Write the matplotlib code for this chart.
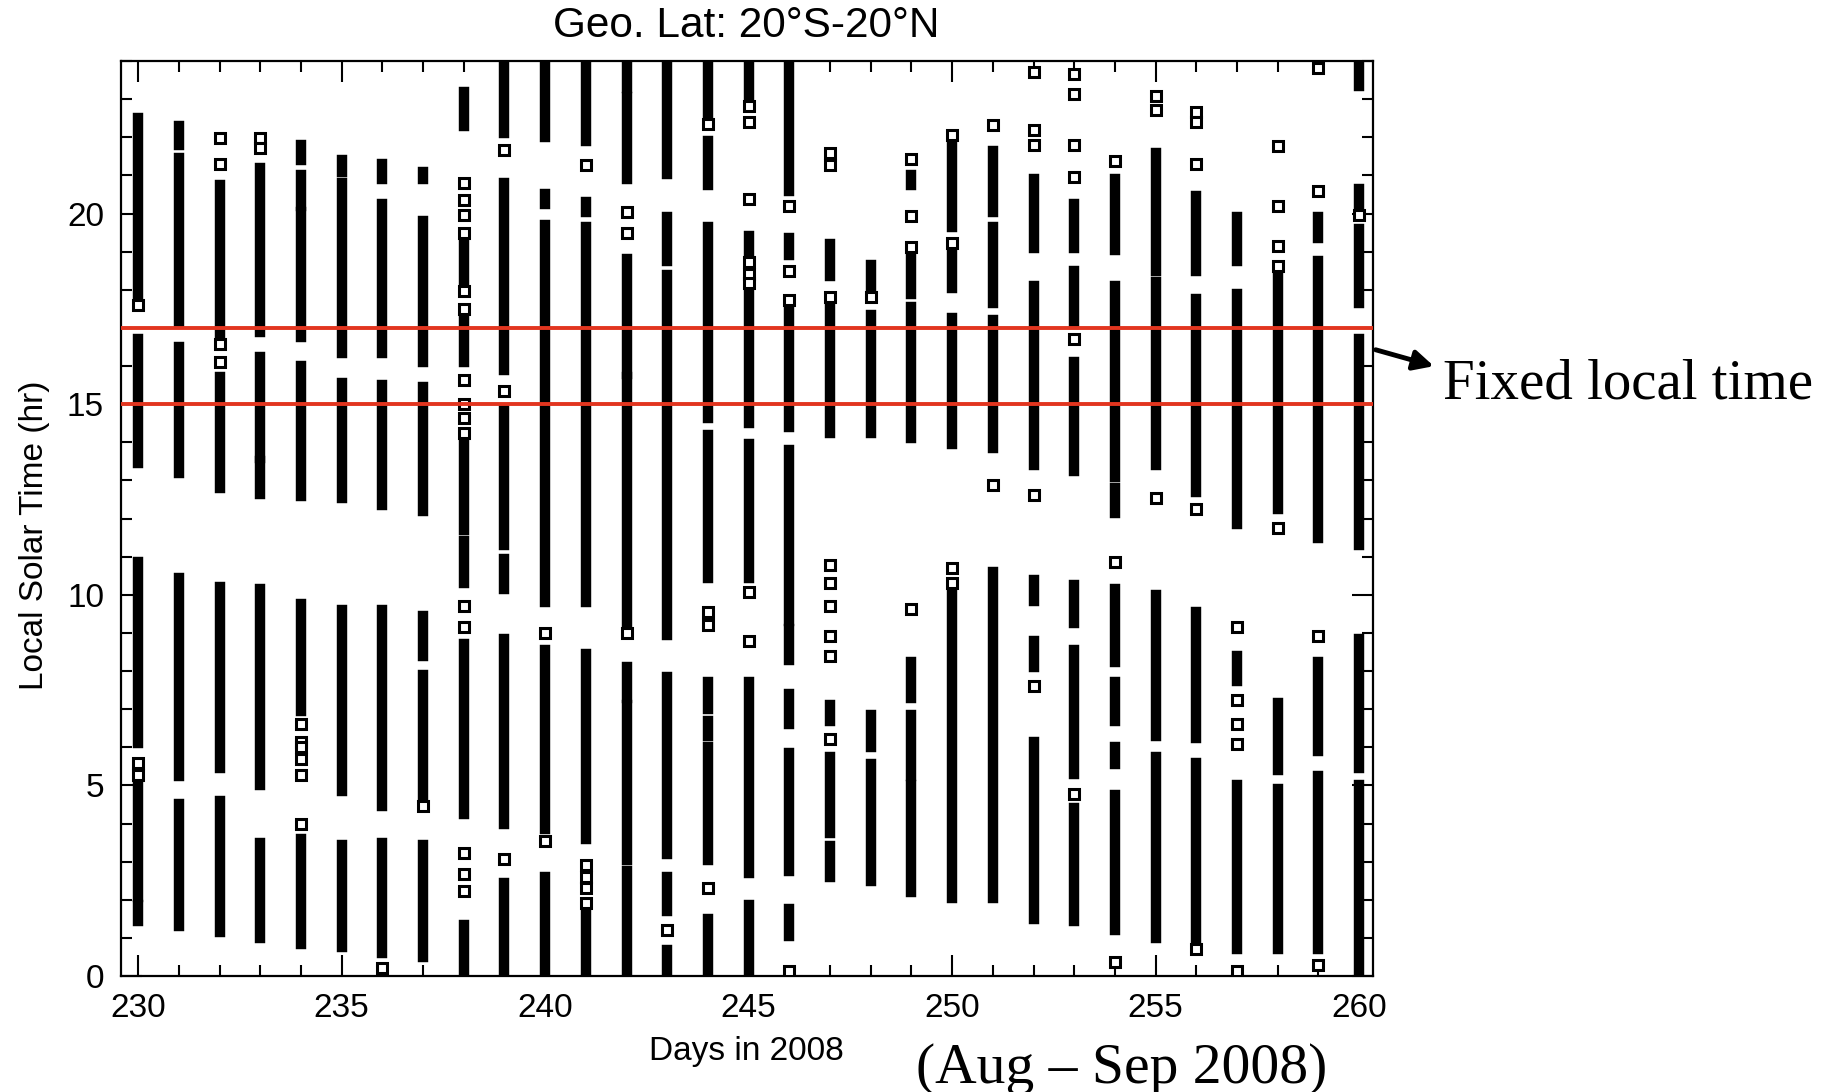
import matplotlib
matplotlib.use('Agg')
import matplotlib.pyplot as plt
from matplotlib.ticker import MultipleLocator

plt.rcParams['font.family'] = ['Liberation Sans', 'DejaVu Sans']

# day of year 2008
days = list(range(230, 261))

# dense runs of samples per day: (lowest LT, highest LT) in hours
segments = [
    [(17.8, 22.5), (13.45, 16.7), (6.1, 10.85), (2.07, 5.07), (1.45, 1.86)],
    [(21.8, 22.3), (17.15, 21.45), (13.2, 16.5), (5.25, 10.45), (1.3, 4.5)],
    [(16.75, 20.75), (12.8, 15.7), (5.45, 10.2), (1.15, 4.6)],
    [(16.9, 21.2), (13.6, 16.25), (12.65, 13.5), (5.0, 10.15), (1.0, 3.5)],
    [(21.4, 21.8), (20.2, 21.0), (16.75, 20.05), (12.6, 16.0), (6.95, 9.75), (0.85, 3.6)],
    [(21.1, 21.4), (16.35, 20.8), (12.55, 15.55), (4.85, 9.6), (0.75, 3.45)],
    [(20.9, 21.3), (16.35, 20.25), (12.35, 15.5), (4.45, 9.6), (0.6, 3.5)],
    [(20.9, 21.1), (16.1, 19.8), (12.2, 15.45), (8.4, 9.45), (4.75, 7.9), (0.5, 3.45)],
    [(22.3, 23.2), (18.2, 19.35), (16.1, 17.2), (11.7, 14.0), (10.3, 11.4), (4.25, 8.7), (0.06, 1.35)],
    [(22.1, 24.0), (15.9, 20.8), (11.3, 14.85), (10.15, 10.95), (4.0, 8.85), (0.06, 2.45)],
    [(22.0, 24.0), (20.25, 20.5), (9.8, 19.7), (3.85, 8.55), (0.06, 2.6)],
    [(21.9, 24.0), (20.05, 20.3), (9.8, 19.65), (3.6, 8.45), (0.06, 1.6)],
    [(23.3, 24.0), (20.9, 23.05), (15.8, 18.8), (9.25, 15.7), (7.3, 8.1), (3.05, 7.1), (0.06, 2.75)],
    [(21.05, 24.0), (18.75, 19.9), (8.95, 18.4), (3.2, 7.85), (1.7, 2.6), (0.06, 0.68)],
    [(22.5, 24.0), (20.75, 21.9), (14.65, 19.65), (10.45, 14.2), (7.0, 7.7), (6.3, 6.7), (3.05, 6.0), (0.06, 1.5)],
    [(23.05, 24.0), (18.9, 19.4), (14.5, 18.05), (10.45, 13.95), (2.7, 7.7), (0.06, 1.85)],
    [(20.6, 24.0), (18.9, 19.35), (14.4, 17.5), (9.3, 13.8), (8.3, 9.1), (6.6, 7.4), (2.75, 5.85), (1.05, 1.75)],
    [(18.35, 19.2), (14.25, 17.5), (6.7, 7.1), (3.75, 5.75), (2.6, 3.4)],
    [(18.1, 18.65), (14.25, 17.35), (6.0, 6.85), (2.5, 5.55)],
    [(20.75, 21.0), (17.9, 18.9), (14.1, 17.55), (7.3, 8.25), (5.25, 6.85), (2.2, 5.0)],
    [(19.65, 21.75), (18.05, 18.95), (13.95, 17.25), (2.05, 10.0)],
    [(20.05, 21.65), (17.65, 19.65), (13.85, 17.2), (2.05, 10.6)],
    [(19.1, 20.9), (13.4, 18.1), (9.85, 10.4), (8.1, 8.8), (1.5, 6.15)],
    [(19.1, 20.25), (17.1, 18.5), (13.25, 16.1), (9.25, 10.25), (5.3, 8.55), (1.45, 4.4)],
    [(19.05, 20.9), (13.1, 18.1), (12.15, 12.8), (8.25, 10.15), (6.7, 7.7), (5.55, 6.0), (1.2, 4.75)],
    [(18.5, 21.6), (13.4, 18.2), (6.3, 10.0), (1.0, 5.75)],
    [(18.5, 20.45), (12.7, 17.75), (6.25, 9.55), (1.0, 5.6)],
    [(18.75, 19.9), (11.85, 17.9), (7.75, 8.4), (0.7, 5.0)],
    [(12.25, 18.4), (5.4, 7.15), (0.7, 4.9)],
    [(19.35, 19.9), (11.5, 18.75), (5.9, 8.25), (0.7, 5.25)],
    [(23.35, 24.0), (20.25, 20.65), (17.65, 19.6), (11.3, 16.7), (5.45, 8.85), (0.06, 5.0)],
]

# isolated samples per day (hours)
singles = [
    [17.6, 5.6, 5.27],
    [],
    [21.97, 21.3, 16.57, 16.1],
    [21.97, 21.71],
    [6.62, 6.15, 6.0, 5.69, 5.27, 4.0],
    [],
    [0.2],
    [4.46],
    [20.81, 20.35, 19.96, 19.5, 17.96, 17.5, 15.64, 15.0, 14.64, 14.25, 9.7, 9.16, 3.22, 2.68, 2.22],
    [21.66, 15.34, 3.07],
    [9.01, 3.53],
    [21.28, 2.91, 2.61, 2.3, 1.91],
    [20.04, 19.5, 9.0],
    [1.22],
    [22.36, 9.55, 9.2, 2.3],
    [22.82, 22.39, 20.38, 18.73, 18.42, 18.19, 10.06, 8.78],
    [20.2, 18.5, 17.73, 0.14],
    [21.58, 21.28, 17.8, 10.78, 10.32, 9.7, 8.93, 8.39, 6.23],
    [17.8],
    [21.43, 19.93, 19.12, 9.63],
    [22.05, 19.22, 10.71, 10.32],
    [22.32, 12.87],
    [23.7, 22.2, 21.81, 12.63, 7.62],
    [23.67, 23.13, 21.81, 20.97, 16.72, 4.77],
    [21.38, 10.86, 0.37],
    [23.08, 22.71, 12.53],
    [22.66, 22.4, 21.31, 12.25, 0.72],
    [9.16, 7.23, 6.62, 6.08, 0.14],
    [21.77, 20.2, 19.16, 18.62, 11.76],
    [23.82, 20.58, 8.93, 0.29],
    [19.96],
]

fixed_lt = [15, 17]

fig = plt.figure(figsize=(18.37, 10.92), dpi=100)
ax = fig.add_axes([0.0657, 0.1062, 0.6817, 0.8379])

for d, segs, pts in zip(days, segments, singles):
    for lo, hi in segs:
        ax.vlines(d, lo, hi, color='black', lw=7.5, capstyle='projecting', zorder=2)
    if pts:
        ax.plot([d] * len(pts), pts, ls='none', marker='s', ms=7,
                mfc='white', mec='black', mew=2.2, zorder=3)

for y in fixed_lt:
    ax.axhline(y, color='#e2351f', lw=2.8, zorder=4)

ax.set_xlim(229.57, 260.34)
ax.set_ylim(0, 24)
ax.xaxis.set_major_locator(MultipleLocator(5))
ax.xaxis.set_minor_locator(MultipleLocator(1))
ax.yaxis.set_major_locator(MultipleLocator(5))
ax.yaxis.set_minor_locator(MultipleLocator(1))
ax.tick_params(which='both', direction='in', top=True, right=True, width=1.5,
               labelsize=24)
ax.tick_params(which='major', length=15)
ax.tick_params(which='minor', length=8)
ax.tick_params(axis='x', pad=12)
ax.tick_params(axis='y', pad=12)
for s in ax.spines.values():
    s.set_linewidth(1.6)

fig.text(0.4065, 0.976, 'Geo. Lat: 20°S-20°N', ha='center', va='center', fontsize=30.5)
fig.text(0.4065, 0.037, 'Days in 2008', ha='center', va='center', fontsize=24)
fig.text(0.019, 0.51, 'Local Solar Time (hr)', ha='center', va='center',
         rotation=90, fontsize=24)

ax.annotate('', xy=(0.782, 0.664), xytext=(0.7474, 0.6804),
            xycoords='figure fraction', textcoords='figure fraction',
            arrowprops=dict(arrowstyle='-|>', lw=3.5, color='black', mutation_scale=30))
fig.text(0.7855, 0.6355, 'Fixed local time', ha='left', va='baseline',
         fontsize=41, family='Liberation Serif')
fig.text(0.6105, 0.008, '(Aug \u2013 Sep 2008)', ha='center', va='baseline',
         fontsize=41.5, family='Liberation Serif')

fig.savefig('out.png', dpi=100)
